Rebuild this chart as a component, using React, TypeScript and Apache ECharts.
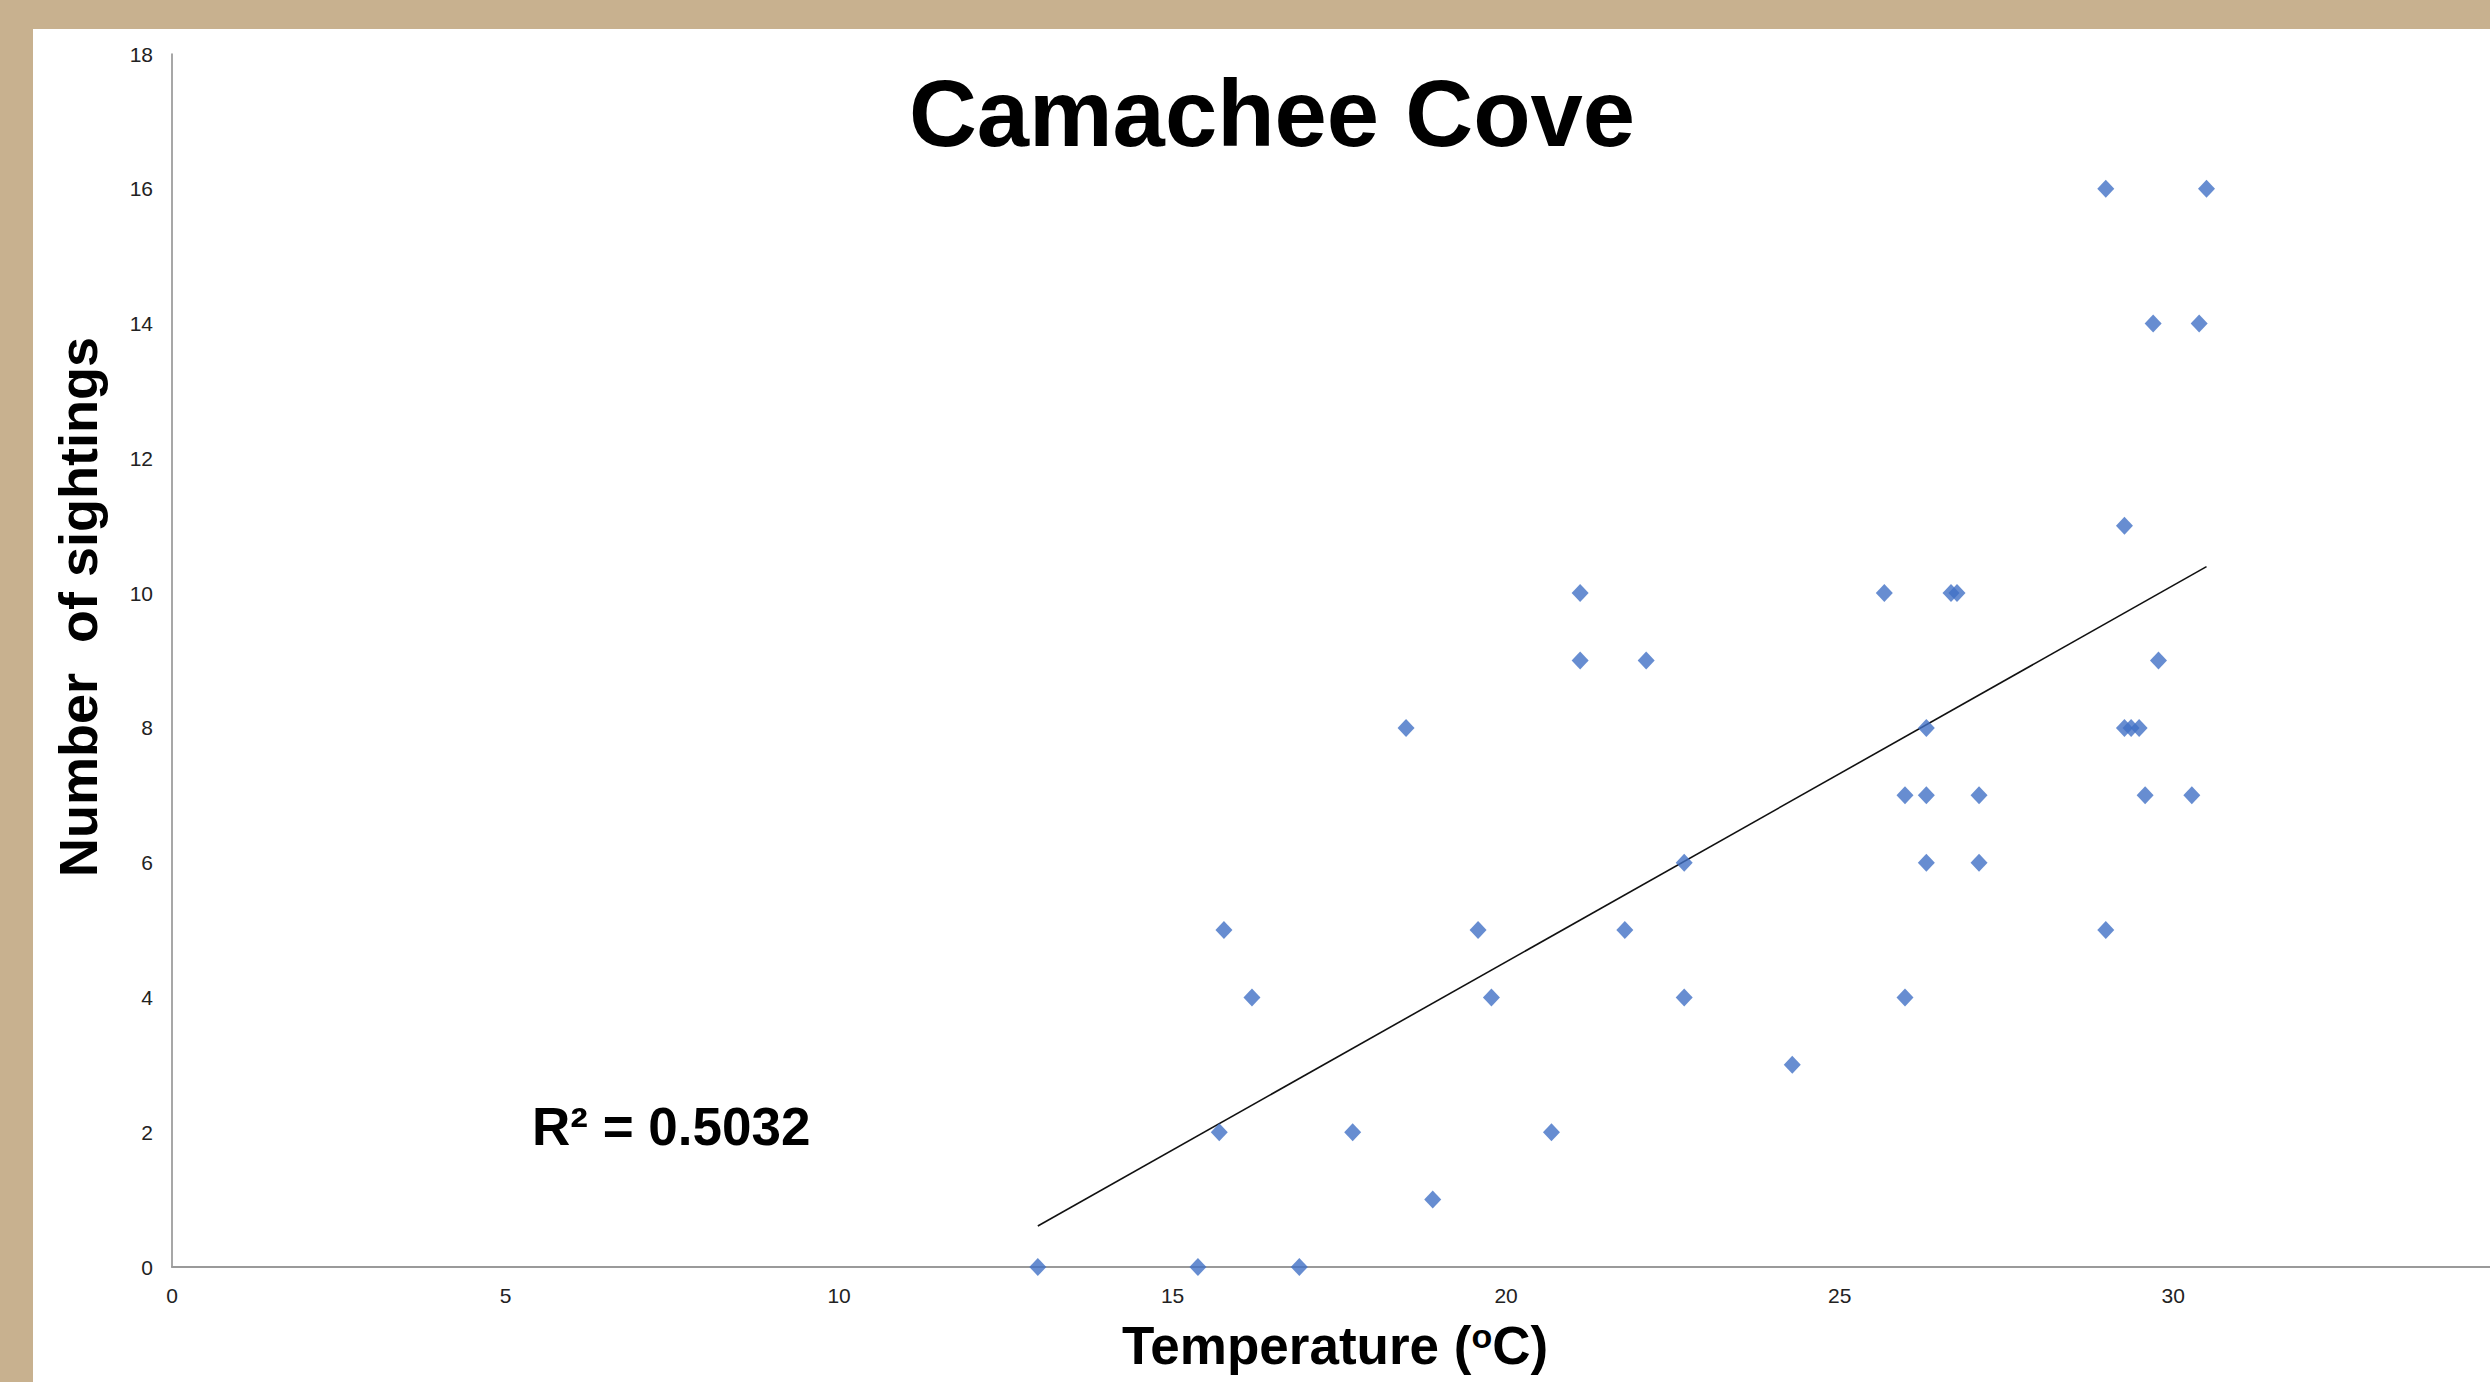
import React, { useEffect, useRef } from "react";
import * as echarts from "echarts";

const chartTitle = "Camachee Cove";
const xAxisTitle = "Temperature ({sup|o}C)";
const yAxisTitle = "Number  of sightings";
const rSquaredText = "R² = 0.5032";

const temperatures = [
  28.99, 30.5, 29.7, 30.39, 29.27, 21.11, 25.67, 26.67, 26.76, 21.11, 22.1,
  29.78, 18.5, 26.3, 29.27, 29.37, 29.49, 25.98, 26.3, 27.09, 29.58, 30.28,
  22.67, 26.3, 27.09, 15.77, 19.58, 21.78, 28.99, 16.19, 19.78, 22.67, 25.98,
  24.29, 15.7, 17.7, 20.68, 18.9, 12.98, 15.38, 16.9,
];
const sightings = [
  16, 16, 14, 14, 11, 10, 10, 10, 10, 9, 9, 9, 8, 8, 8, 8, 8, 7, 7, 7, 7, 7, 6,
  6, 6, 5, 5, 5, 5, 4, 4, 4, 4, 3, 2, 2, 2, 1, 0, 0, 0,
];

function trendEnds(xs: number[], ys: number[]) {
  const n = xs.length;
  const mx = xs.reduce((a, b) => a + b, 0) / n;
  const my = ys.reduce((a, b) => a + b, 0) / n;
  let sxy = 0;
  let sxx = 0;
  for (let i = 0; i < n; i++) {
    sxy += (xs[i] - mx) * (ys[i] - my);
    sxx += (xs[i] - mx) * (xs[i] - mx);
  }
  const b = sxy / sxx;
  const a = my - b * mx;
  const x0 = Math.min(...xs);
  const x1 = Math.max(...xs);
  return [
    [x0, a + b * x0],
    [x1, a + b * x1],
  ];
}

const FONT = "'Liberation Sans', Arial, sans-serif";

export default function App() {
  const ref = useRef<HTMLDivElement>(null);
  useEffect(() => {
    document.body.style.margin = "0";
    const chart = echarts.init(ref.current!, null, { renderer: "svg" });
    const points = temperatures.map((t, i) => [t, sightings[i]]);
    chart.setOption({
      animation: false,
      backgroundColor: "#ffffff",
      textStyle: { fontFamily: FONT },
      grid: { left: 172, top: 54, bottom: 115, right: 0, containLabel: false },
      xAxis: {
        type: "value",
        min: 0,
        max: 34.75,
        interval: 5,
        name: xAxisTitle,
        nameLocation: "middle",
        nameGap: 52,
        nameTextStyle: {
          fontSize: 53,
          fontWeight: "bold",
          color: "#000",
          fontFamily: FONT,
          padding: [0, 0, 0, 8],
          rich: {
            sup: {
              fontSize: 34,
              fontWeight: "bold",
              color: "#000",
              fontFamily: FONT,
              verticalAlign: "top",
              padding: [0, 0, 18, 0],
            },
          },
        },
        axisLine: { show: true, lineStyle: { color: "#9a9a9a", width: 2 } },
        axisTick: { show: false },
        splitLine: { show: false },
        axisLabel: {
          fontSize: 21,
          color: "#222",
          margin: 18,
          fontFamily: FONT,
          showMaxLabel: false,
        },
      },
      yAxis: {
        type: "value",
        min: 0,
        max: 18,
        interval: 2,
        axisLine: { show: true, lineStyle: { color: "#8a8a8a", width: 1.5 } },
        axisTick: { show: false },
        splitLine: { show: false },
        axisLabel: { fontSize: 21, color: "#222", margin: 19, fontFamily: FONT },
      },
      graphic: [
        { type: "rect", shape: { x: 0, y: 0, width: 2490, height: 29 }, style: { fill: "#C8B18F" } },
        { type: "rect", shape: { x: 0, y: 0, width: 33, height: 1382 }, style: { fill: "#C8B18F" } },
        {
          type: "text",
          x: 1272,
          y: 113,
          style: {
            text: chartTitle,
            fontSize: 94,
            fontWeight: "bold",
            fontFamily: FONT,
            fill: "#000",
            textAlign: "center",
            textVerticalAlign: "middle",
          },
        },
        {
          type: "text",
          x: 78,
          y: 607,
          rotation: Math.PI / 2,
          style: {
            text: yAxisTitle,
            fontSize: 54,
            fontWeight: "bold",
            fontFamily: FONT,
            fill: "#000",
            textAlign: "center",
            textVerticalAlign: "middle",
          },
        },
        {
          type: "text",
          x: 532,
          y: 1126,
          style: {
            text: rSquaredText,
            fontSize: 53,
            fontWeight: "bold",
            fontFamily: FONT,
            fill: "#000",
            textAlign: "left",
            textVerticalAlign: "middle",
          },
        },
      ],
      series: [
        {
          type: "line",
          data: trendEnds(temperatures, sightings),
          showSymbol: false,
          lineStyle: { color: "#111", width: 1.6 },
          z: 1,
        },
        {
          type: "scatter",
          data: points,
          symbol: "diamond",
          symbolSize: [17, 18],
          itemStyle: { color: "#4170C6" },
          z: 2,
        },
      ],
    });
    return () => chart.dispose();
  }, []);
  return <div ref={ref} style={{ width: 2490, height: 1382 }} />;
}
